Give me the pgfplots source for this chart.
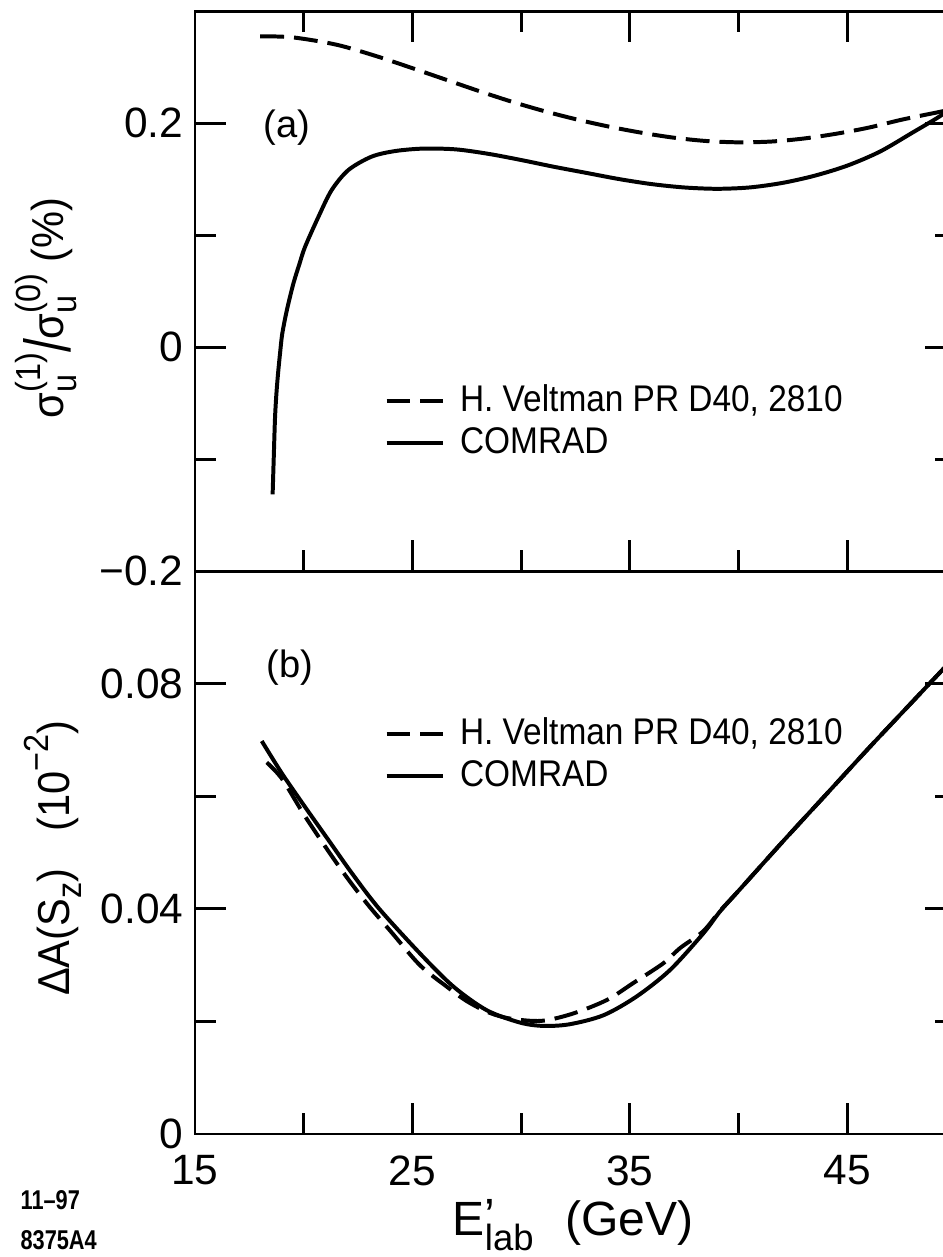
\documentclass[border=0pt]{standalone}
\usepackage{fontspec}
\setmainfont{Liberation Sans}
\usepackage{graphicx}
\usepackage{pgfplots}
\pgfplotsset{compat=1.18}

\newcommand\nr[1]{\scalebox{0.93}[1]{#1}}
\newcommand\lgt[1]{\scalebox{0.9}[1]{#1}}
\newcommand\sm{\fontsize{10.5}{11}\selectfont}
\newcommand\sg[1]{σ\rlap{\raisebox{-0.55ex}{\sm u}}\raisebox{0.95ex}{\sm(#1)}}

\pgfplotsset{
  every axis/.append style={
    scale only axis, width=8.070cm,
    xmin=15, xmax=50,
    tick align=inside,
    major tick length=0.33cm, minor tick length=0.22cm,
    axis line style={line width=0.9pt},
    every tick/.style={black, line width=0.9pt},
    every minor tick/.style={black, line width=0.9pt},
    tick label style={font=\fontsize{12.8}{14}\selectfont},
    xticklabel style={yshift=-3pt},
    xtick={15,25,35,45}, minor xtick={20,30,40,50},
    clip mode=individual,
    legend cell align=left,
    legend image code/.code={\draw[#1, line width=1.2pt] (0cm,0cm) -- (0.6cm,0cm);},
  },
  lgd/.style={legend style={at={#1}, anchor=north west, draw=none, fill=none,
    inner sep=0pt, row sep=1.6pt, column sep=4.5pt,
    nodes={inner sep=0pt, text height=8.6pt, text depth=2.4pt},
    font=\fontsize{11.2}{13}\selectfont}},
  curve/.style={black, line width=1.2pt, smooth, tension=0.5},
  dsh/.style={curve, dash pattern=on 7.2pt off 3pt},
}

\begin{document}
\begin{tikzpicture}
\useasboundingbox (-2.0679,-1.3043) rectangle (7.9321,12.0254);

% ---------------- (b) lower panel
\begin{axis}[
  at={(0,0)}, anchor=south west,
  height=5.970cm,
  ymin=0, ymax=0.1,
  xtick pos=bottom,
  xticklabels={15,25,35,45},
  ytick={0,0.04,0.08}, yticklabels={0,0.04,0.08},
  minor ytick={0.02,0.06},
  xlabel={E\raisebox{-0.6ex}{\rlap{\fontsize{11}{11}\selectfont lab}}\raisebox{0.1ex}{\textquoteright}\hspace{1.45em}(GeV)},
  xlabel style={at={(rel axis cs:0.497,-0.162)}, anchor=center, font=\fontsize{14.5}{16}\selectfont},
  ylabel={\nr{ΔA(S\raisebox{-0.5ex}{\sm z})\hspace{0.9em}(10\raisebox{0.9ex}{\sm −2})}},
  ylabel style={at={(rel axis cs:-0.187,0.49)}, anchor=center, font=\fontsize{13.5}{15}\selectfont},
  lgd={(axis cs:23.69,0.0744)},
]
\addplot[dsh] coordinates {
 (18.3,0.0660) (19.0,0.0631) (20.0,0.0568) (21.0,0.0510) (22.0,0.0455)
 (23.0,0.0405) (24.0,0.0360) (25.34,0.0300) (26.57,0.0262) (27.5,0.0236)
 (28.5,0.0216) (29.5,0.0205) (30.94,0.0201) (32.39,0.0214) (33.94,0.0238)
 (35.15,0.0268) (36.53,0.0303) (37.3,0.0330) (38.37,0.0360) (39.14,0.0396)
 (40,0.0432) (42,0.0518) (44,0.0602) (46,0.0686) (48,0.0768) (50,0.0850)
};
\addlegendentry{\lgt{H. Veltman PR D40, 2810}}
\addplot[curve] coordinates {
 (18.07,0.0698) (18.99,0.0641) (20.06,0.0581) (21.14,0.0522) (22.22,0.0463)
 (23.45,0.0401) (25.34,0.0321) (26.88,0.0262) (28.41,0.0220) (29.94,0.0198)
 (31.02,0.0192) (32.24,0.0195) (33.79,0.0211) (35.30,0.0244) (36.84,0.0291)
 (38.37,0.0356) (39.14,0.0395) (40,0.0432) (42,0.0518) (44,0.0602)
 (46,0.0686) (48,0.0768) (50,0.0850)
};
\addlegendentry{\lgt{COMRAD}}
\node[font=\fontsize{11.5}{13}\selectfont] at (axis cs:19.37,0.0828) {(b)};
\node[anchor=west, inner sep=0pt, font=\fontsize{8.2}{9}\selectfont\bfseries] at (rel axis cs:-0.230,-0.117) {\scalebox{0.8}[1]{11–97}};
\node[anchor=west, inner sep=0pt, font=\fontsize{8.2}{9}\selectfont\bfseries] at (rel axis cs:-0.230,-0.188) {\scalebox{0.8}[1]{8375A4}};
\end{axis}

% ---------------- (a) upper panel
\begin{axis}[
  at={(0,5.970cm)}, anchor=south west,
  height=5.938cm,
  ymin=-0.2, ymax=0.3,
  xtick pos=both,
  xticklabels={,,,},
  ytick={-0.2,0,0.2}, yticklabels={−0.2,0,0.2},
  minor ytick={-0.1,0.1},
  ylabel={\nr{\sg{1}\raisebox{-0.3ex}{\scalebox{1.2}[1.45]{/}}\sg{0}\ (\%)}},
  ylabel style={at={(rel axis cs:-0.196,0.47)}, anchor=center, font=\fontsize{13.5}{15}\selectfont},
  lgd={(axis cs:23.69,-0.0316)},
]
\addplot[dsh] coordinates {
 (18.0,0.2775) (19.5,0.2765) (21.5,0.2700) (23.3,0.2600) (25.0,0.2490)
 (26.5,0.2390) (28.0,0.2290) (29.5,0.2195) (31.0,0.2110) (32.5,0.2035)
 (34.0,0.1970) (35.5,0.1915) (37.0,0.1870) (38.5,0.1840) (40.0,0.1828)
 (41.5,0.1835) (43.0,0.1862) (44.5,0.1905) (46.0,0.1960) (47.5,0.2030)
 (49.0,0.2090) (50.0,0.2130)
};
\addlegendentry{\lgt{H. Veltman PR D40, 2810}}
\addplot[curve] coordinates {
 (18.57,-0.1316) (18.62,-0.1000) (18.68,-0.0633) (18.75,-0.0400) (18.83,-0.0214)
 (18.92,-0.0040) (19.01,0.0115) (19.22,0.0325) (19.52,0.0564) (19.80,0.0740)
 (20.06,0.0894) (20.67,0.1160) (21.28,0.1400) (22.05,0.1580) (23.12,0.1700)
 (24.20,0.1750) (25.50,0.1772) (27.00,0.1765) (28.50,0.1725) (30.00,0.1670)
 (31.50,0.1610) (33.00,0.1555) (34.50,0.1500) (36.00,0.1455) (37.50,0.1425)
 (39.00,0.1413) (40.50,0.1425) (42.00,0.1465) (43.50,0.1530) (45.00,0.1620)
 (46.50,0.1745) (48.00,0.1915) (49.25,0.2060) (50.00,0.2170)
};
\addlegendentry{\lgt{COMRAD}}
\node[font=\fontsize{11.5}{13}\selectfont] at (axis cs:19.23,0.196) {(a)};
\end{axis}
\end{tikzpicture}
\end{document}
